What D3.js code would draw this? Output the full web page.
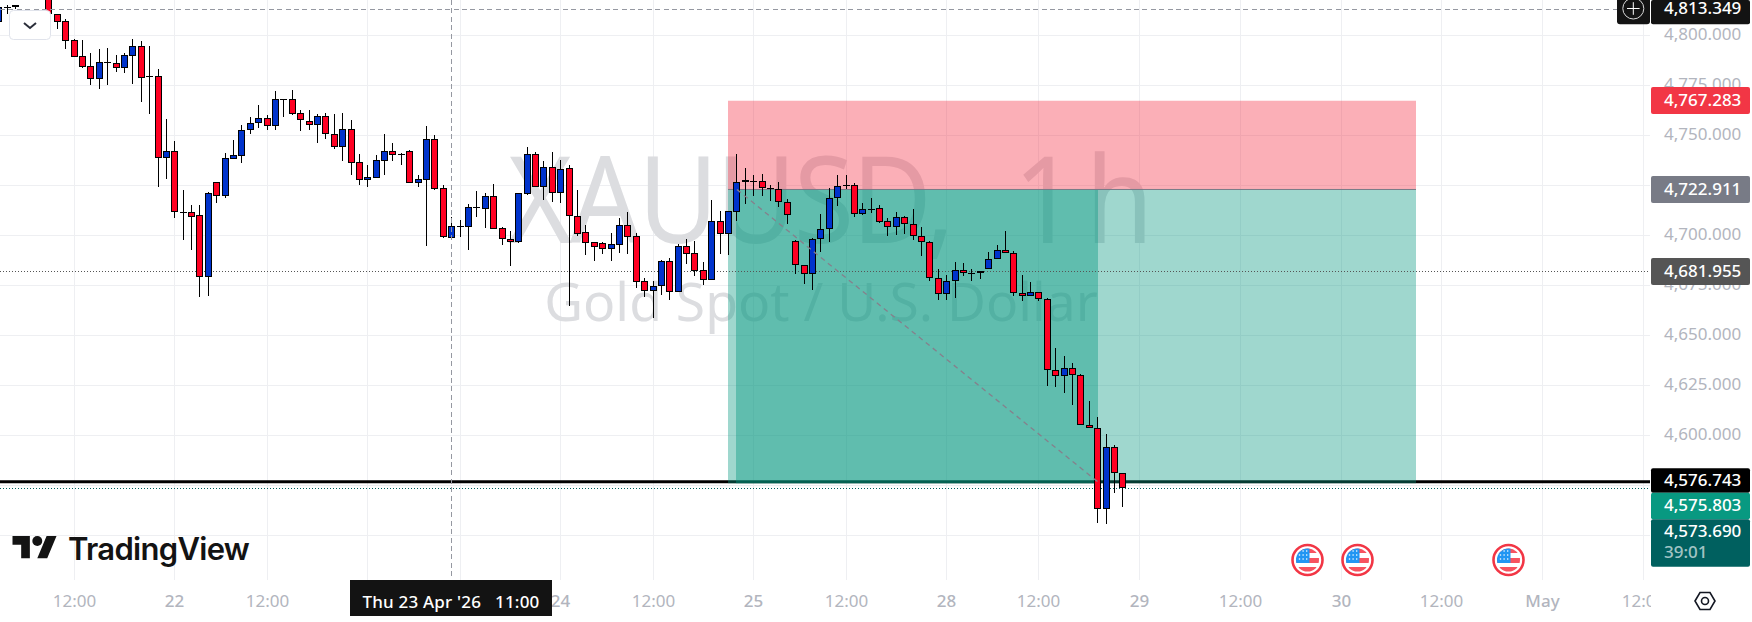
<!DOCTYPE html>
<html>
<head>
<meta charset="utf-8">
<script src="https://cdn.jsdelivr.net/npm/d3@7"></script>
<style>
  html, body { margin: 0; padding: 0; background: #fff; overflow: hidden; }
  svg { display: block; font-family: "Noto Sans", sans-serif; }
</style>
</head>
<body>
<svg id="chart" width="1752" height="622"></svg>
<script>
// hourly XAUUSD candles, bar 0 is the first bar fully clear of the button
const firstBar = -7;
const opens = [4806.8,4814.3,4814.3,4812,4808,4806,4820,
  4810.5,4807,4797.5,4789.5,4784.5,4778.3,4786.5,4786,4783.8,4789.8,4794.5,4779.5,4779.5,4738.8,4742,4711.5,4711.5,4710,4679.3,4726.5,4719.8,4738.3,4739.8,4752.5,4756,4758.5,4754.8,4768,4768,4761,4757,4755.3,4759.5,4750.5,4744.3,4753,4736.5,4727.8,4728.8,4737.3,4742,4740.5,4742,4726.3,4727.8,4748,4723.5,4698.8,4704.5,4704.3,4713.5,4713.3,4719.5,4703.5,4698,4696.8,4720.8,4740.5,4724.3,4734,4721,4733.5,4709.8,4701.5,4696.5,4696,4693.3,4695.3,4705,4699.5,4677,4672.3,4674.8,4687,4671.8,4694.5,4691,4682.5,4677.8,4707,4700.8,4711.8,4726.5,4727,4727,4723.5,4723,4716.5,4697,4685,4680.5,4698,4703,4718.5,4724.5,4725,4710.5,4713,4713.5,4707,4704,4709,4705.5,4699.5,4696.5,4678.5,4670.5,4677,4682.5,4681,4681,4683,4688,4692.5,4691,4671,4669.5,4671.5,4668,4632.5,4629.5,4633.5,4630,4605,4603.5,4563,4594,4581];
const highs = [4815,4815.2,4815.2,4812.4,4808.6,4806.6,4820,
  4810.5,4808.2,4798,4797.7,4791.2,4793,4793.7,4790.2,4791,4798.2,4797.2,4794.7,4783.2,4758.2,4747.2,4722.7,4715.2,4715.2,4721.7,4726.5,4741,4747.7,4755,4759.2,4765.2,4760.2,4772.2,4768,4772.7,4762.5,4762.7,4760.5,4761,4760.7,4761.2,4757.7,4740.7,4735.2,4740.2,4750.7,4746.2,4741.2,4742.7,4730.2,4754.7,4750.2,4725.2,4709,4707.7,4715.7,4722.2,4721.2,4725.7,4704.2,4702.2,4721,4744,4741.7,4737.2,4741.7,4737.7,4735,4722.7,4705.2,4696.7,4696.7,4701.2,4708.7,4711.7,4701.2,4678.7,4677.2,4687.7,4688.7,4695.5,4698.2,4697.2,4686.7,4717.7,4712.2,4712.2,4740.7,4733.7,4730.2,4730.7,4725,4726.7,4718,4697.5,4685,4698.7,4710.7,4723.5,4730,4730.2,4726,4716.2,4718.7,4715,4708.5,4711.7,4709.7,4713.2,4704.2,4697.2,4683.2,4680.2,4686.7,4686.2,4683.2,4682,4691.7,4695.2,4702.2,4692,4680.2,4676.7,4671.5,4668.5,4643.7,4639.7,4636.2,4630.5,4617,4609.2,4600.5,4595,4581];
const lows = [4805,4810.7,4813,4806,4805,4803,4810.7,
  4803.2,4793.2,4789.3,4783.7,4775.2,4773.2,4775.2,4781.7,4781.2,4775.7,4766.7,4760.7,4724.2,4728.2,4708.7,4697.7,4692.7,4669.2,4669.7,4716.2,4718.7,4738.3,4736.2,4750.7,4753.7,4752.7,4752.7,4759.2,4760.2,4752.2,4752.7,4746.2,4748.2,4743.2,4737.2,4730.2,4725.2,4724.2,4728.8,4730.2,4737.2,4735.2,4726.3,4724.2,4694.7,4722.7,4698.7,4698.8,4699.2,4692.7,4709.2,4703.5,4703.3,4695.2,4684.7,4696.3,4720.3,4724.3,4717.7,4716.7,4716.2,4664.7,4699.7,4690.2,4687.2,4690.7,4687.2,4691.2,4690.7,4673.7,4669.2,4658.7,4670.2,4667.7,4671.8,4685.7,4679.7,4675.2,4677.8,4690.7,4690.2,4707.2,4715.7,4719.7,4719.7,4717.2,4714.2,4705.5,4680.7,4675.7,4672.7,4691.7,4696.7,4714.7,4723.2,4709.2,4710,4711,4706.3,4699.7,4700.2,4700.7,4697.7,4689.7,4677.2,4667.7,4667.7,4668.7,4679.7,4677.2,4678.2,4683,4688,4691,4669.7,4667.2,4669.5,4667.2,4624.7,4624.2,4621.2,4615.2,4605,4603.5,4556.2,4555.7,4571.2,4564.3];
const closes = [4814,4814.3,4815.2,4808,4806,4804,4810.7,
  4806.8,4797.3,4789.3,4784.3,4778.3,4786.5,4786.5,4783.8,4790,4794.5,4778.8,4779.5,4738.8,4742,4711.5,4711.5,4709.3,4679.3,4721,4719.8,4738.5,4740,4752.5,4756,4758.5,4754.8,4768,4768,4760.8,4757.5,4755.3,4759.5,4750.5,4744.3,4753,4736.3,4727.8,4729,4737.5,4742,4740.3,4740.5,4726.3,4728,4748,4723.2,4699.3,4704.5,4704.5,4714,4714,4719.5,4703.3,4698,4696.8,4721,4740.5,4724.3,4734,4721,4733,4709.8,4700.8,4696.3,4694.3,4693.3,4695.5,4705,4699.3,4676.8,4672.3,4674.5,4687,4671.8,4694.5,4690.8,4682.3,4677.8,4707,4700.8,4712.2,4726.5,4727.5,4727,4723.5,4723.5,4716.5,4710,4685,4680.5,4698,4703,4718.5,4724.5,4725,4710.5,4713,4713.3,4706.8,4704,4709,4705.5,4699.5,4696.5,4678.5,4670.5,4677,4682.5,4681,4681,4682,4688,4692.5,4691,4671,4669.5,4671.5,4668,4632.5,4629.5,4633.5,4630,4605,4603.5,4563,4594,4581,4573.69];

const priceTicks = [4800,4775,4750,4725,4700,4675,4650,4625,4600,4575,4550];
const timeTickBars = [2,14,25,37,48,60,71,83,94,106,117,129,141,153,165,177,189];
const timeTickLabels = ['12:00','22','12:00','23','12:00','24','12:00','25','12:00','28','12:00','29','12:00','30','12:00','May','12:00'];
const eventBars = [149,155,173];

// position tool and price lines
const stopPrice = 4767.283, entryPrice = 4722.911, targetPrice = 4576.743;
const lastPrice = 4573.69, prevPrice = 4681.955, crossPrice = 4813.349;
const toolBars = [80, 162], tradeBars = [81, 124], crossBar = 47;

const width = 1752, paneRight = 1651, paneBottom = 580;

const svg = d3.select('#chart');

const xScale = d3.scaleLinear().domain([0, 127]).range([57.35, 1122.88]);
const yScale = d3.scaleLinear().domain([4800, 4550]).range([35.3, 535.3]);
const barPx = i => Math.floor(xScale(i));
const px = v => Math.round(yScale(v));

const defs = svg.append('defs');
defs.append('clipPath').attr('id', 'pane').append('rect')
  .attr('width', paneRight - 1).attr('height', paneBottom);
defs.append('clipPath').attr('id', 'timeClip').append('rect')
  .attr('y', paneBottom).attr('width', paneRight).attr('height', 42);
defs.append('clipPath').attr('id', 'flagClip').append('circle').attr('r', 11.5);

// grid
const grid = svg.append('g').attr('shape-rendering', 'crispEdges').attr('stroke', '#eeeff2');
grid.selectAll('.h').data(priceTicks).join('line').attr('class', 'h')
  .attr('x1', 0).attr('x2', paneRight - 1)
  .attr('y1', d => px(d) + 0.5).attr('y2', d => px(d) + 0.5);
grid.selectAll('.v').data(timeTickBars).join('line').attr('class', 'v')
  .attr('x1', d => barPx(d) + 0.5).attr('x2', d => barPx(d) + 0.5)
  .attr('y1', 0).attr('y2', paneBottom);

// watermark, squeezed a little since the original face is narrower
const mark = svg.append('g').attr('fill', '#dcdde0');
const title = mark.append('text').attr('transform', 'translate(508,243) scale(0.915,1)').attr('font-size', 120)
  .attr('letter-spacing', -2.5).attr('word-spacing', 38);
title.append('tspan').text('XAUUSD, ');
title.append('tspan').attr('letter-spacing', 10).text('1h');
mark.append('text').attr('x', 821).attr('y', 321).attr('font-size', 53.4).attr('text-anchor', 'middle')
  .text('Gold Spot / U.S. Dollar');

// target line sits below the position tool
svg.append('line').attr('x1', 0).attr('x2', paneRight - 1)
  .attr('y1', yScale(targetPrice)).attr('y2', yScale(targetPrice))
  .attr('stroke', '#000').attr('stroke-width', 3);

// long/short position tool
const tool = svg.append('g');
const toolX0 = barPx(toolBars[0]), toolX1 = barPx(toolBars[1]);
tool.append('rect').attr('x', toolX0).attr('width', toolX1 - toolX0)
  .attr('y', yScale(stopPrice)).attr('height', yScale(entryPrice) - yScale(stopPrice))
  .attr('fill', 'rgba(245,50,70,0.39)');
tool.append('rect').attr('x', toolX0).attr('width', toolX1 - toolX0)
  .attr('y', yScale(entryPrice)).attr('height', yScale(targetPrice) + 1.5 - yScale(entryPrice))
  .attr('fill', 'rgba(8,153,129,0.39)');
tool.append('rect').attr('x', barPx(tradeBars[0])).attr('width', barPx(tradeBars[1]) - barPx(tradeBars[0]) + 1)
  .attr('y', yScale(entryPrice)).attr('height', yScale(targetPrice) + 1.5 - yScale(entryPrice))
  .attr('fill', 'rgba(8,153,129,0.41)');
tool.append('line').attr('x1', toolX0).attr('x2', toolX1)
  .attr('y1', yScale(entryPrice)).attr('y2', yScale(entryPrice))
  .attr('stroke', '#787b86').attr('stroke-width', 1);

// dotted price lines
const dotted = [[prevPrice, '#555'], [lastPrice, '#00605f']];
svg.selectAll('.dot').data(dotted).join('line').attr('class', 'dot')
  .attr('x1', 0).attr('x2', paneRight - 1)
  .attr('y1', d => px(d[0]) + 0.5).attr('y2', d => px(d[0]) + 0.5)
  .attr('stroke', d => d[1]).attr('stroke-dasharray', '1 2')
  .attr('shape-rendering', 'crispEdges');

// candles
const bars = opens.map((o, i) => ({ bar: i + firstBar, o, h: highs[i], l: lows[i], c: closes[i] }));
const candles = svg.append('g').attr('clip-path', 'url(#pane)').attr('shape-rendering', 'crispEdges');
candles.selectAll('.wick').data(bars).join('rect').attr('class', 'wick')
  .attr('x', d => barPx(d.bar)).attr('width', 1)
  .attr('y', d => px(d.h)).attr('height', d => Math.max(1, px(d.l) - px(d.h)))
  .attr('fill', '#000');
candles.selectAll('.body').data(bars).join('rect').attr('class', 'body')
  .attr('x', d => barPx(d.bar) - 3).attr('width', 7)
  .attr('y', d => px(Math.max(d.o, d.c)))
  .attr('height', d => Math.max(1, px(Math.min(d.o, d.c)) - px(Math.max(d.o, d.c))))
  .attr('fill', '#000');
candles.selectAll('.fill').data(bars.filter(d => px(Math.min(d.o, d.c)) - px(Math.max(d.o, d.c)) > 2)).join('rect')
  .attr('class', 'fill')
  .attr('x', d => barPx(d.bar) - 2).attr('width', 5)
  .attr('y', d => px(Math.max(d.o, d.c)) + 1)
  .attr('height', d => px(Math.min(d.o, d.c)) - px(Math.max(d.o, d.c)) - 2)
  .attr('fill', d => d.c >= d.o ? '#0033cc' : '#ff0022');

// trade path of the position tool
svg.append('line')
  .attr('x1', xScale(tradeBars[0])).attr('y1', yScale(entryPrice))
  .attr('x2', xScale(tradeBars[1])).attr('y2', yScale(targetPrice))
  .attr('stroke', '#85808c').attr('stroke-width', 1.3).attr('stroke-dasharray', '5 4');

// crosshair
const cross = svg.append('g').attr('stroke', '#9598a1').attr('stroke-dasharray', '5 3.4')
  .attr('shape-rendering', 'crispEdges');
cross.append('line').attr('x1', 0).attr('x2', 1617)
  .attr('y1', px(crossPrice) + 0.5).attr('y2', px(crossPrice) + 0.5);
cross.append('line').attr('x1', barPx(crossBar) + 0.5).attr('x2', barPx(crossBar) + 0.5)
  .attr('y1', 0).attr('y2', paneBottom);

// collapse button
const btn = svg.append('g').attr('transform', 'translate(9.5,10.5)');
btn.append('rect').attr('width', 41).attr('height', 29).attr('rx', 4)
  .attr('fill', '#fff').attr('stroke', '#e0e3eb');
btn.append('path').attr('d', 'M14.5 12.5l6 5 6-5').attr('fill', 'none')
  .attr('stroke', '#2a2e39').attr('stroke-width', 2);

// TradingView logo
const logo = svg.append('g').attr('transform', 'translate(12.5,531) scale(1.24)').attr('fill', '#131313');
logo.append('path').attr('d', 'M14 22H7V11H0V4h14v18zM28 22h-8l7.5-18h8L28 22z');
logo.append('circle').attr('cx', 20).attr('cy', 8).attr('r', 4);
svg.append('text').attr('x', 68).attr('y', 559.5).attr('font-family', 'Inter')
  .attr('font-size', 31).attr('font-weight', 600).attr('fill', '#131313').attr('letter-spacing', -0.7)
  .text('TradingView');

// economic event flags
const flag = svg.selectAll('.flag').data(eventBars).join('g').attr('class', 'flag')
  .attr('transform', d => `translate(${barPx(d) + 0.5},560)`);
flag.append('circle').attr('r', 15).attr('fill', '#fff').attr('stroke', '#f23645').attr('stroke-width', 2.6);
const cloth = flag.append('g').attr('clip-path', 'url(#flagClip)');
cloth.append('rect').attr('x', -12).attr('y', -12).attr('width', 24).attr('height', 5).attr('fill', '#f7525f');
cloth.append('rect').attr('x', -12).attr('y', -2).attr('width', 24).attr('height', 5).attr('fill', '#f7525f');
cloth.append('rect').attr('x', -12).attr('y', 7).attr('width', 24).attr('height', 5).attr('fill', '#f7525f');
cloth.append('rect').attr('x', -12).attr('y', -12).attr('width', 14).attr('height', 15).attr('fill', '#2196f3');
cloth.selectAll('.star').data(d3.range(9)).join('circle').attr('class', 'star')
  .attr('cx', d => -8 + (d % 3) * 3.6).attr('cy', d => -9 + Math.floor(d / 3) * 4)
  .attr('r', 0.8).attr('fill', '#fff');

// price axis
const priceAxis = d3.axisRight(yScale).tickValues(priceTicks).tickSize(0).tickPadding(0)
  .tickFormat(d3.format(',.3f'));
const priceG = svg.append('g').attr('transform', 'translate(1664,-1.5)').call(priceAxis);
priceG.select('.domain').remove();
priceG.selectAll('text').attr('fill', '#b2b5be').attr('font-size', 17).attr('font-family', '"Noto Sans"');

// time axis
const timeAxis = d3.axisBottom(xScale).tickValues(timeTickBars).tickSize(0).tickPadding(0)
  .tickFormat(d => timeTickLabels[timeTickBars.indexOf(d)]);
const timeG = svg.append('g').attr('clip-path', 'url(#timeClip)').append('g')
  .attr('transform', 'translate(0,595)').call(timeAxis);
timeG.select('.domain').remove();
timeG.selectAll('.tick').attr('transform', d => `translate(${barPx(d) + 0.5},0)`);
timeG.selectAll('text').attr('fill', '#b2b5be').attr('font-size', 17).attr('font-family', '"Noto Sans"')
  .attr('font-weight', (d, i) => timeTickLabels[i] === '12:00' ? 400 : 500);

// crosshair time tag
svg.append('rect').attr('x', 350).attr('y', paneBottom).attr('width', 202).attr('height', 36)
  .attr('fill', '#131313');
svg.append('text').attr('x', 451).attr('y', 608).attr('text-anchor', 'middle')
  .attr('font-size', 17).attr('fill', '#fff').attr('font-weight', 500).attr('letter-spacing', 0.2)
  .attr('xml:space', 'preserve')
  .text("Thu 23 Apr '26   11:00");

// price tags
const tags = [
  { text: d3.format(',.3f')(crossPrice), top: 0, h: 24.3, cy: 8.6, fill: '#131313' },
  { text: d3.format(',.3f')(stopPrice), top: 87, h: 27, cy: yScale(stopPrice), fill: '#f23645' },
  { text: d3.format(',.3f')(entryPrice), top: 176, h: 27, cy: yScale(entryPrice), fill: '#787b86' },
  { text: d3.format(',.3f')(prevPrice), top: 258, h: 27, cy: yScale(prevPrice), fill: '#555555' },
  { text: d3.format(',.3f')(targetPrice), top: 468.3, h: 24.4, cy: 480.7, fill: '#000000' },
  { text: '4,575.803', top: 492.7, h: 26.6, cy: 505.7, fill: '#089981' },
  { text: d3.format(',.3f')(lastPrice), top: 519.3, h: 47.4, cy: 531.7, fill: '#00605f' }
];
const tag = svg.selectAll('.tag').data(tags).join('g').attr('class', 'tag');
tag.append('rect').attr('x', 1651).attr('width', 99).attr('y', d => d.top).attr('height', d => d.h)
  .attr('rx', 2).attr('fill', d => d.fill);
tag.append('text').attr('x', 1664).attr('y', d => d.cy).attr('dy', '0.32em')
  .attr('font-size', 17).attr('font-weight', 500).attr('fill', '#fff').text(d => d.text);
svg.append('text').attr('x', 1664).attr('y', 553).attr('dy', '0.32em').attr('font-size', 17)
  .attr('font-weight', 500).attr('fill', 'rgba(255,255,255,0.65)').text('39:01');

// plus button next to the crosshair tag
const plus = svg.append('g');
plus.append('rect').attr('x', 1617).attr('y', -4).attr('width', 33).attr('height', 28.3).attr('rx', 3)
  .attr('fill', '#131313');
plus.append('circle').attr('cx', 1633.3).attr('cy', 8.5).attr('r', 10.5).attr('fill', 'none')
  .attr('stroke', '#d8d8d8');
plus.append('path').attr('d', 'M1627 8.5h12.6M1633.3 2.2v12.6').attr('stroke', '#fff');

// settings hexagon
const hex = svg.append('g').attr('transform', 'translate(1705,601)').attr('fill', 'none')
  .attr('stroke', '#131722').attr('stroke-width', 1.6);
hex.append('path').attr('d', 'M-10 0L-5 -8.5H5L10 0L5 8.5H-5Z');
hex.append('circle').attr('r', 3.5);
</script>
</body>
</html>
